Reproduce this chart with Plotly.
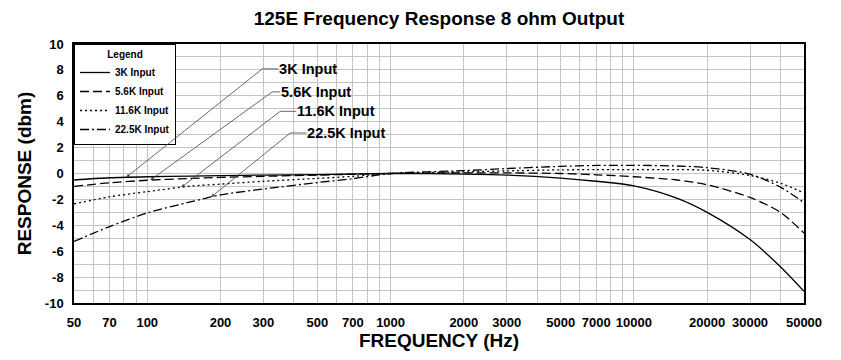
import numpy as np
import plotly.graph_objects as go

# ---- data ----
freq = [50, 70, 100, 150, 200, 300, 500, 700, 1000, 2000, 3000, 5000, 7000,
        10000, 15000, 20000, 30000, 40000, 50000]
resp_3k = [-0.5, -0.33, -0.25, -0.2, -0.16, -0.12, -0.08, -0.04, 0.0, -0.05, -0.12,
           -0.35, -0.6, -0.95, -1.9, -3.0, -5.1, -7.2, -9.1]
resp_5k6 = [-1.0, -0.72, -0.52, -0.38, -0.3, -0.22, -0.12, -0.06, 0.0, 0.05, 0.05,
            0.0, -0.1, -0.25, -0.5, -0.87, -1.85, -3.0, -4.6]
resp_11k6 = [-2.35, -1.8, -1.4, -0.98, -0.82, -0.6, -0.38, -0.22, 0.0, 0.12, 0.2,
             0.28, 0.3, 0.3, 0.3, 0.25, -0.15, -0.75, -1.5]
resp_22k5 = [-5.25, -4.1, -3.05, -2.2, -1.65, -1.2, -0.7, -0.4, 0.0, 0.22, 0.38,
             0.55, 0.62, 0.63, 0.58, 0.45, -0.05, -1.05, -2.25]

series_names = ["3K Input", "5.6K Input", "11.6K Input", "22.5K Input"]
series_values = [resp_3k, resp_5k6, resp_11k6, resp_22k5]
series_dash = ["solid", "9px,4px", "2px,3px", "9px,3px,2px,3px"]

x_tick_labels = [50, 70, 100, 200, 300, 500, 700, 1000, 2000, 3000, 5000, 7000,
                 10000, 20000, 30000, 50000]
y_tick_labels = [-10, -8, -6, -4, -2, 0, 2, 4, 6, 8, 10]

# callout labels: where the arrow touches each curve, and where the leader starts
callout_freq = [82, 103, 138, 183]
callout_tail_freq = [297, 326, 352, 387]
callout_tail_db = [8.08, 6.3, 4.8, 3.13]
callout_gap = [4, 2, 4, 4]   # non-breaking spaces before the label text

FONT = "Liberation Sans, Arial, sans-serif"

# the page body has an 8px margin, so the figure is drawn 8px smaller
W, H = 841 - 8, 360 - 8

# gridline positions: every 1..9 x decade
grid_x = []
for dec in [10, 100, 1000, 10000]:
    for m in range(1, 10):
        v = m * dec
        if 50 <= v <= 50000:
            grid_x.append(v)
grid_text = [str(v) if v in x_tick_labels else "" for v in grid_x]

fig = go.Figure()
for name, vals, dash in zip(series_names, series_values, series_dash):
    fig.add_trace(go.Scatter(
        x=freq, y=vals, mode="lines", name=name,
        line=dict(color="black", width=1.3, dash=dash, shape="spline", smoothing=0.8),
    ))

logf = np.log10(freq)
for i, (name, vals) in enumerate(zip(series_names, series_values)):
    hx = np.log10(callout_freq[i])
    hy = float(np.interp(hx, logf, vals))
    gap = callout_gap[i]
    fig.add_annotation(
        x=hx, y=hy, xref="x", yref="y",
        ax=np.log10(callout_tail_freq[i]), ay=callout_tail_db[i], axref="x", ayref="y",
        text="\u00a0" * gap + name, showarrow=True, xanchor="left", yanchor="middle",
        borderpad=0, arrowhead=2, arrowsize=0.9, arrowwidth=0.8, arrowcolor="#444",
        font=dict(family=FONT, size=14.5, color="black", weight="bold"),
    )
    fig.add_shape(
        type="line", xref="x", yref="y",
        xsizemode="pixel", ysizemode="pixel",
        xanchor=callout_tail_freq[i], yanchor=callout_tail_db[i],
        x0=0, x1=gap * 4, y0=0, y1=0,
        line=dict(color="#444", width=0.8),
    )

fig.update_layout(
    width=W, height=H,
    margin=dict(l=66, r=37, t=36, b=57),
    paper_bgcolor="white", plot_bgcolor="white",
    title=dict(text="125E Frequency Response 8 ohm Output", x=0.5, xref="paper",
               y=1 - 10 / H, yref="container", yanchor="middle", xanchor="center",
               font=dict(family=FONT, size=19, color="black", weight="bold")),
    legend=dict(x=0, y=1, xanchor="left", yanchor="top", bgcolor="white",
                bordercolor="black", borderwidth=1,
                font=dict(family=FONT, size=10, color="black", weight="bold"),
                title=dict(text="Legend", side="top center",
                           font=dict(family=FONT, size=10, color="black", weight="bold"))),
    showlegend=True,
)
fig.update_xaxes(
    type="log", range=[np.log10(50), np.log10(50000)],
    tickmode="array", tickvals=grid_x, ticktext=grid_text,
    showgrid=True, gridcolor="#c4c4c4", gridwidth=1,
    showline=True, linecolor="black", linewidth=1.5, mirror=True,
    ticks="outside", ticklen=7, tickcolor="rgba(0,0,0,0)",
    tickfont=dict(family=FONT, size=13, color="black", weight="bold"),
    title=dict(text="FREQUENCY (Hz)", standoff=4,
               font=dict(family=FONT, size=19, color="black", weight="bold")),
)
fig.update_yaxes(
    range=[-10, 10], tickmode="array", tickvals=y_tick_labels,
    ticktext=[str(v) for v in y_tick_labels],
    showgrid=True, gridcolor="#c4c4c4", gridwidth=1, zeroline=False,
    minor=dict(dtick=1, showgrid=True, gridcolor="#c4c4c4", gridwidth=1),
    showline=True, linecolor="black", linewidth=1.5, mirror=True,
    ticks="outside", ticklen=6, tickcolor="rgba(0,0,0,0)",
    tickfont=dict(family=FONT, size=13, color="black", weight="bold"),
    title=dict(text="RESPONSE (dbm)", standoff=8,
               font=dict(family=FONT, size=19, color="black", weight="bold")),
)

fig.write_html("out.html")
